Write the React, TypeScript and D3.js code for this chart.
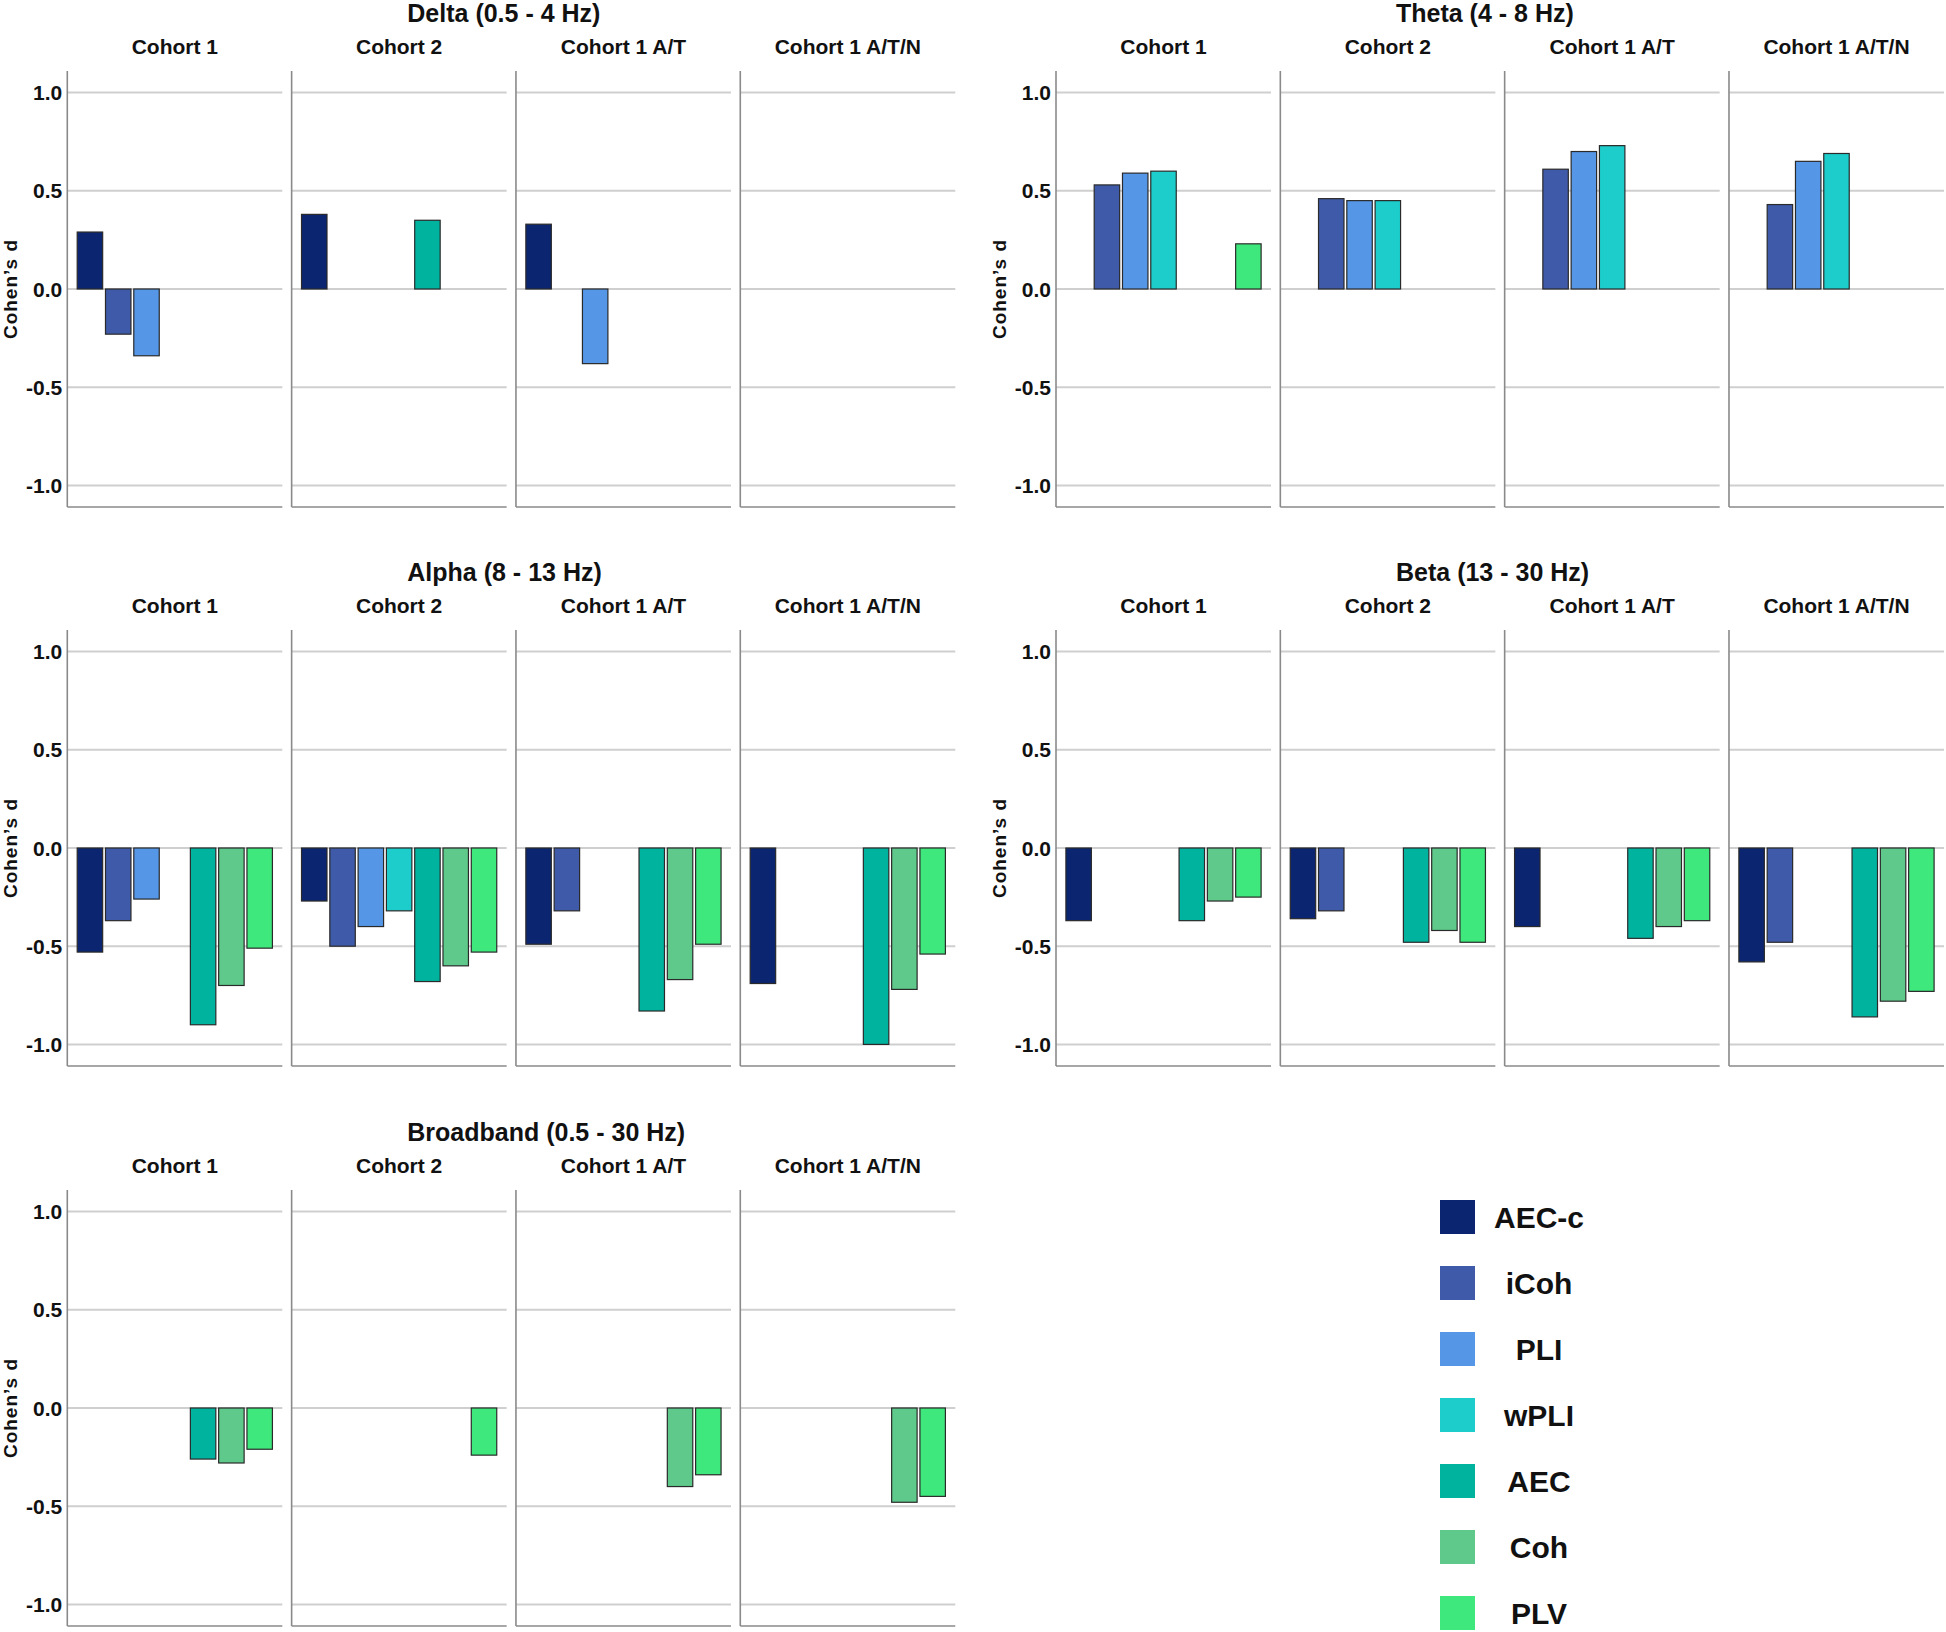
import React from 'react';
import * as d3 from 'd3';

const metrics = ['AEC-c', 'iCoh', 'PLI', 'wPLI', 'AEC', 'Coh', 'PLV'];
const metricColors = ['#0b2570', '#3f5aa8', '#5596e6', '#1ccdcc', '#00b39f', '#5ec98a', '#3fe87c'];
const cohorts = ['Cohort 1', 'Cohort 2', 'Cohort 1 A/T', 'Cohort 1 A/T/N'];
const yTicks = [1.0, 0.5, 0.0, -0.5, -1.0];

// rows = cohorts, columns = metrics (null: no bar)
const deltaValues = [
  [0.29, -0.23, -0.34, null, null, null, null],
  [0.38, null, null, null, 0.35, null, null],
  [0.33, null, -0.38, null, null, null, null],
  [null, null, null, null, null, null, null],
];
const thetaValues = [
  [null, 0.53, 0.59, 0.6, null, null, 0.23],
  [null, 0.46, 0.45, 0.45, null, null, null],
  [null, 0.61, 0.7, 0.73, null, null, null],
  [null, 0.43, 0.65, 0.69, null, null, null],
];
const alphaValues = [
  [-0.53, -0.37, -0.26, null, -0.9, -0.7, -0.51],
  [-0.27, -0.5, -0.4, -0.32, -0.68, -0.6, -0.53],
  [-0.49, -0.32, null, null, -0.83, -0.67, -0.49],
  [-0.69, null, null, null, -1.0, -0.72, -0.54],
];
const betaValues = [
  [-0.37, null, null, null, -0.37, -0.27, -0.25],
  [-0.36, -0.32, null, null, -0.48, -0.42, -0.48],
  [-0.4, null, null, null, -0.46, -0.4, -0.37],
  [-0.58, -0.48, null, null, -0.86, -0.78, -0.73],
];
const broadbandValues = [
  [null, null, null, null, -0.26, -0.28, -0.21],
  [null, null, null, null, null, null, -0.24],
  [null, null, null, null, null, -0.4, -0.34],
  [null, null, null, null, null, -0.48, -0.45],
];

const bandTitles = ['Delta (0.5 - 4 Hz)', 'Theta (4 - 8 Hz)', 'Alpha (8 - 13 Hz)', 'Beta (13 - 30 Hz)', 'Broadband (0.5 - 30 Hz)'];
const bandValues = [deltaValues, thetaValues, alphaValues, betaValues, broadbandValues];

// layout: [column, row] of each band's block
const blockPlace = [[0, 0], [1, 0], [0, 1], [1, 1], [0, 2]];
const colX = [67.3, 1056];
const rowTop = [71, 630, 1190];
const panelH = 436;
const blockW = 888;

const FONT = '"Liberation Sans", Arial, sans-serif';
const fmt = (v: number) => d3.format('.1f')(v).replace('−', '-');

function Block({title, values, x0, top}: {title: string; values: (number | null)[][]; x0: number; top: number}) {
  const fx = d3.scaleBand<string>().domain(cohorts).range([x0, x0 + blockW]).paddingInner(0.0415).paddingOuter(0);
  const y = d3.scaleLinear().domain([-1.11, 1.11]).range([top + panelH, top]);
  const bx = d3.scaleBand<string>().domain(metrics).range([0, fx.bandwidth()]).paddingInner(0.1).paddingOuter(0.35);
  const pw = fx.bandwidth();

  return (
    <g>
      <text x={x0 + 340} y={top - 58} dominantBaseline="central" fontFamily={FONT} fontWeight="bold" fontSize={25} fill="#111">
        {title}
      </text>
      <text
        transform={`translate(${x0 - 57},${y(0)}) rotate(-90)`}
        textAnchor="middle"
        dominantBaseline="central"
        fontFamily={FONT}
        fontWeight="bold"
        fontSize={19}
        letterSpacing={1}
        fill="#111"
      >
        Cohen’s d
      </text>
      {yTicks.map((t) => (
        <text key={t} x={x0 - 5} y={y(t)} textAnchor="end" dominantBaseline="central" fontFamily={FONT} fontWeight="bold" fontSize={21} fill="#111">
          {fmt(t)}
        </text>
      ))}
      {cohorts.map((c, ci) => {
        const px = fx(c)!;
        return (
          <g key={c}>
            <text x={px + pw / 2} y={top - 25} textAnchor="middle" dominantBaseline="central" fontFamily={FONT} fontWeight="bold" fontSize={21} fill="#111">
              {c}
            </text>
            {yTicks.map((t) => (
              <line key={t} x1={px} x2={px + pw} y1={y(t)} y2={y(t)} stroke="#cfcfcf" strokeWidth={2} />
            ))}
            <line x1={px} x2={px} y1={top} y2={top + panelH} stroke="#8a8a8a" strokeWidth={1.6} />
            <line x1={px} x2={px + pw} y1={top + panelH} y2={top + panelH} stroke="#8a8a8a" strokeWidth={1.6} />
            {values[ci].map((v, mi) =>
              v === null ? null : (
                <rect
                  key={mi}
                  x={px + bx(metrics[mi])!}
                  y={y(Math.max(0, v))}
                  width={bx.bandwidth()}
                  height={Math.abs(y(v) - y(0))}
                  fill={metricColors[mi]}
                  stroke="#2a2a2a"
                  strokeWidth={1.2}
                />
              )
            )}
          </g>
        );
      })}
    </g>
  );
}

function Legend() {
  const ly = d3.scaleBand<string>().domain(metrics).range([1184, 1646]).paddingInner(0).paddingOuter(0);
  return (
    <g>
      {metrics.map((m, i) => {
        const cy = ly(m)! + ly.bandwidth() / 2;
        return (
          <g key={m}>
            <rect x={1440} y={cy - 17} width={35} height={34} fill={metricColors[i]} />
            <text x={1539} y={cy} textAnchor="middle" dominantBaseline="central" fontFamily={FONT} fontWeight="bold" fontSize={30} fill="#111">
              {m}
            </text>
          </g>
        );
      })}
    </g>
  );
}

export default function App() {
  return (
    <svg width={1946} height={1632} style={{position: 'absolute', left: 0, top: 0, background: '#fff'}}>
      <rect width={1946} height={1632} fill="#fff" />
      {bandTitles.map((t, i) => (
        <Block key={t} title={t} values={bandValues[i]} x0={colX[blockPlace[i][0]]} top={rowTop[blockPlace[i][1]]} />
      ))}
      <Legend />
    </svg>
  );
}
